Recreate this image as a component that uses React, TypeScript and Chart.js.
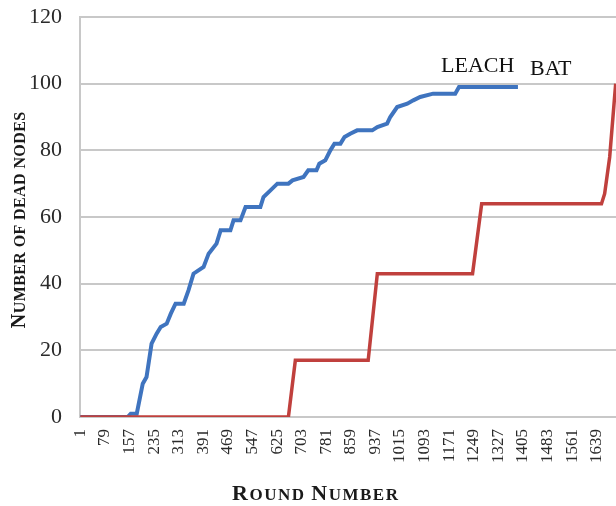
import React, { useEffect, useRef } from 'react';
import { Chart, registerables } from 'chart.js';

Chart.register(...registerables);

const X_TICKS = [1, 79, 157, 235, 313, 391, 469, 547, 625, 703, 781, 859, 937, 1015, 1093, 1171, 1249, 1327, 1405, 1483, 1561, 1639];
const Y_TICKS = [0, 20, 40, 60, 80, 100, 120];

const LEACH_ROUNDS = [1, 151, 161, 180, 199, 211, 227, 243, 256, 275, 288, 303, 329, 344, 360, 392, 408, 433, 446, 477, 487, 509, 525, 572, 582, 604, 626, 661, 674, 709, 724, 750, 759, 778, 794, 807, 826, 839, 857, 879, 927, 943, 974, 984, 1006, 1038, 1057, 1079, 1120, 1190, 1202, 1389];
const LEACH_DEAD = [0, 0, 1, 1, 10, 12, 22, 25, 27, 28, 31, 34, 34, 38, 43, 45, 49, 52, 56, 56, 59, 59, 63, 63, 66, 68, 70, 70, 71, 72, 74, 74, 76, 77, 80, 82, 82, 84, 85, 86, 86, 87, 88, 90, 93, 94, 95, 96, 97, 97, 99, 99];

const BAT_ROUNDS = [1, 661, 683, 914, 943, 1245, 1274, 1654, 1664, 1680, 1699];
const BAT_DEAD = [0, 0, 17, 17, 43, 43, 64, 64, 67, 78, 100];

const SERIES_NAMES = ['LEACH', 'BAT'];
const Y_TITLE = 'Number of dead nodes';
const X_TITLE = 'Round Number';

const SERIF = '"Liberation Serif", "Times New Roman", serif';

function drawSmallCaps(ctx: CanvasRenderingContext2D, text: string, cx: number, cy: number, size: number, rotate: boolean, spacing: number) {
  const big = `bold ${size}px ${SERIF}`;
  const small = `bold ${Math.round(size * 0.78)}px ${SERIF}`;
  const pieces: { t: string; f: string; w: number }[] = [];
  for (const ch of text) {
    const isUpper = ch !== ' ' && ch === ch.toUpperCase();
    pieces.push({ t: ch.toUpperCase(), f: isUpper ? big : small, w: 0 });
  }
  let total = 0;
  for (const p of pieces) {
    ctx.font = p.f;
    p.w = ctx.measureText(p.t).width + spacing;
    total += p.w;
  }
  total -= spacing;
  ctx.save();
  ctx.translate(cx, cy);
  if (rotate) ctx.rotate(-Math.PI / 2);
  ctx.textBaseline = 'alphabetic';
  ctx.textAlign = 'left';
  ctx.fillStyle = '#1a1a1a';
  let x = -total / 2;
  for (const p of pieces) {
    ctx.font = p.f;
    ctx.fillText(p.t, x, 0);
    x += p.w;
  }
  ctx.restore();
}

const textPlugin = {
  id: 'customText',
  afterDraw(chart: any) {
    const ctx: CanvasRenderingContext2D = chart.ctx;
    drawSmallCaps(ctx, Y_TITLE, 25, 220, 20, true, 0.4);
    drawSmallCaps(ctx, X_TITLE, 315, 500, 22, false, 1.5);
    ctx.save();
    ctx.font = `22px ${SERIF}`;
    ctx.fillStyle = '#111';
    ctx.textAlign = 'left';
    ctx.textBaseline = 'alphabetic';
    ctx.fillText(SERIES_NAMES[0], 441, 72);
    ctx.fillText(SERIES_NAMES[1], 530, 75);
    ctx.restore();
  },
};

export default function App() {
  const ref = useRef<HTMLCanvasElement | null>(null);
  useEffect(() => {
    if (!ref.current) return;
    const chart = new Chart(ref.current, {
      type: 'line',
      data: {
        datasets: [
          {
            label: SERIES_NAMES[0],
            data: LEACH_ROUNDS.map((r, i) => ({ x: r, y: LEACH_DEAD[i] })),
            borderColor: '#3f74bf',
            borderWidth: 4,
            pointRadius: 0,
            tension: 0,
            fill: false,
            order: 1,
          },
          {
            label: SERIES_NAMES[1],
            data: BAT_ROUNDS.map((r, i) => ({ x: r, y: BAT_DEAD[i] })),
            borderColor: '#c0403d',
            borderWidth: 3.5,
            pointRadius: 0,
            tension: 0,
            fill: false,
            order: 0,
          },
        ],
      },
      options: {
        animation: false,
        responsive: false,
        devicePixelRatio: 1,
        layout: { padding: { top: 17, right: 0, left: 0, bottom: 0 } },
        plugins: { legend: { display: false }, tooltip: { enabled: false } },
        scales: {
          x: {
            type: 'linear',
            min: 0,
            max: 1700,
            grid: { display: false, drawTicks: false },
            border: { display: false },
            afterBuildTicks: (axis: any) => {
              axis.ticks = X_TICKS.map((v) => ({ value: v }));
            },
            afterFit: (scale: any) => {
              scale.height = 89;
              scale.paddingLeft = 0;
              scale.paddingRight = 0;
            },
            ticks: {
              autoSkip: false,
              minRotation: 90,
              maxRotation: 90,
              padding: 12,
              color: '#2a2a2a',
              font: { family: SERIF, size: 17 },
              callback: (v: any) => String(v),
            },
          },
          y: {
            type: 'linear',
            min: 0,
            max: 120,
            afterBuildTicks: (axis: any) => {
              axis.ticks = Y_TICKS.map((v) => ({ value: v }));
            },
            afterFit: (scale: any) => {
              scale.width = 80;
              scale.paddingTop = 0;
              scale.paddingBottom = 0;
            },
            grid: { color: '#c8c8c8', lineWidth: 2, drawTicks: false },
            border: { display: true, color: '#c8c8c8', width: 2 },
            ticks: {
              padding: 18,
              color: '#2a2a2a',
              font: { family: SERIF, size: 22 },
            },
          },
        },
      },
      plugins: [textPlugin],
    });
    return () => chart.destroy();
  }, []);
  return (
    <div style={{ position: 'absolute', left: 0, top: 0, width: 616, height: 506, background: '#fff' }}>
      <canvas ref={ref} width={616} height={506} style={{ display: 'block' }} />
    </div>
  );
}
